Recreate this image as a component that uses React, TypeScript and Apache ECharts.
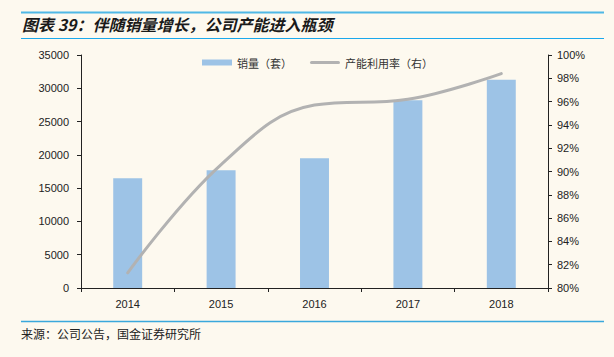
import React, { useEffect, useRef } from "react";
import * as echarts from "echarts";

const categories = ["2014", "2015", "2016", "2017", "2018"];
const salesValues = [16500, 17700, 19500, 28200, 31300];
const utilizationValues = [81.3, 90.6, 95.7, 96.2, 98.4];
const salesName = "销量（套）";
const utilName = "产能利用率（右）";
const titleText = "图表 39：伴随销量增长，公司产能进入瓶颈";
const sourceText = "来源：公司公告，国金证券研究所";

const BG = "#fdf9ef";
const LATIN = "'Liberation Sans', Arial, sans-serif";
const CJK = "'Noto Sans CJK SC', sans-serif";

export default function App() {
  const ref = useRef<HTMLDivElement>(null);
  useEffect(() => {
    document.body.style.margin = "0";
    document.body.style.background = BG;
    const chart = echarts.init(ref.current!, null, { renderer: "svg" });
    chart.setOption({
      animation: false,
      backgroundColor: BG,
      grid: { left: 81, right: 66, top: 55, bottom: 69, containLabel: false },
      legend: {
        left: 197,
        top: 52,
        itemWidth: 30,
        itemHeight: 6,
        itemGap: 18,
        textStyle: { fontFamily: CJK, fontSize: 11, color: "#333" },
        data: [
          { name: salesName, icon: "rect" },
          { name: utilName, icon: "path://M1.5,0L28.5,0A1.5,1.5,0,0,1,28.5,3L1.5,3A1.5,1.5,0,0,1,1.5,0Z" },
        ],
      },
      xAxis: {
        type: "category",
        data: categories,
        axisLine: { lineStyle: { color: "#222", width: 1 } },
        axisTick: { show: true, alignWithLabel: false, length: 4, lineStyle: { color: "#222" } },
        axisLabel: { fontFamily: LATIN, fontSize: 11, color: "#222", margin: 10 },
      },
      yAxis: [
        {
          type: "value",
          min: 0,
          max: 35000,
          interval: 5000,
          splitLine: { show: false },
          axisLine: { show: true, lineStyle: { color: "#222", width: 1 } },
          axisTick: { show: true, length: 4, lineStyle: { color: "#222" } },
          axisLabel: {
            fontFamily: LATIN,
            fontSize: 11,
            color: "#222",
            margin: 12,
            formatter: (v: number) => String(v),
          },
        },
        {
          type: "value",
          min: 80,
          max: 100,
          interval: 2,
          position: "right",
          splitLine: { show: false },
          axisLine: { show: true, lineStyle: { color: "#222", width: 1 } },
          axisTick: { show: true, length: 4, lineStyle: { color: "#222" } },
          axisLabel: { fontFamily: LATIN, fontSize: 11, color: "#222", margin: 9, formatter: "{value}%" },
        },
      ],
      series: [
        {
          name: salesName,
          type: "bar",
          data: salesValues,
          barWidth: "31%",
          itemStyle: { color: "#9dc3e6" },
          yAxisIndex: 0,
        },
        {
          name: utilName,
          type: "line",
          data: utilizationValues,
          yAxisIndex: 1,
          smooth: 0.4,
          symbol: "none",
          lineStyle: { color: "#b2b2b2", width: 3, cap: "round" },
          itemStyle: { color: "#b2b2b2" },
        },
      ],
      graphic: [
        { type: "line", shape: { x1: 21, y1: 12.5, x2: 604, y2: 12.5 }, style: { stroke: "#4fb8e6", lineWidth: 2 } },
        {
          type: "text",
          x: 22,
          y: 24,
          style: {
            text: titleText,
            font: `italic bold 16px ${CJK}`,
            fill: "#1a1a1a",
            verticalAlign: "middle",
          },
        },
        { type: "line", shape: { x1: 21, y1: 38.5, x2: 604, y2: 38.5 }, style: { stroke: "#1aa8ec", lineWidth: 1.2 } },
        { type: "line", shape: { x1: 21, y1: 321.5, x2: 604, y2: 321.5 }, style: { stroke: "#3aa8dc", lineWidth: 1.5 } },
        {
          type: "text",
          x: 21,
          y: 333,
          style: {
            text: sourceText,
            font: `12px ${CJK}`,
            fill: "#222",
            verticalAlign: "middle",
          },
        },
      ],
    });
    return () => chart.dispose();
  }, []);
  return <div ref={ref} style={{ position: "fixed", left: 0, top: 0, width: 614, height: 357 }} />;
}
